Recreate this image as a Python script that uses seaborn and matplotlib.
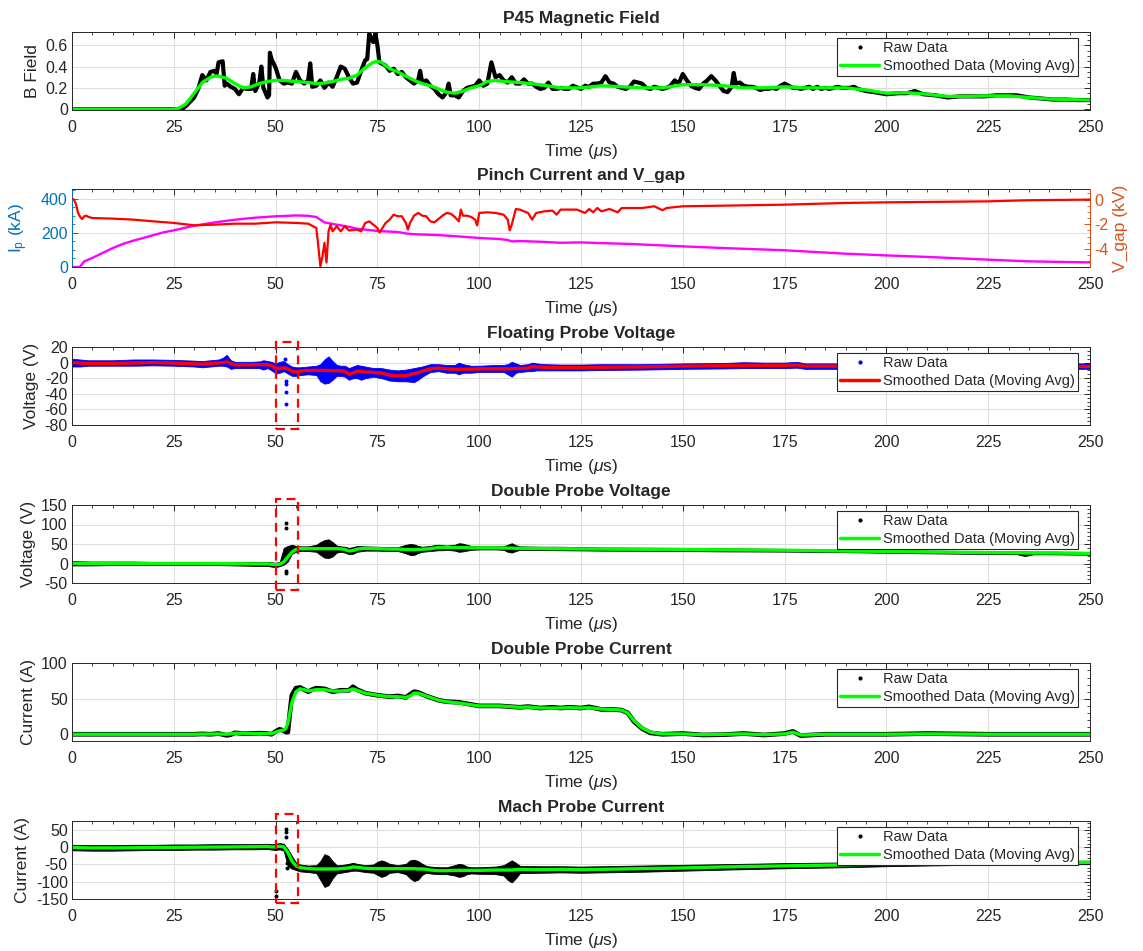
import matplotlib
matplotlib.use("Agg")
import matplotlib.pyplot as plt
import seaborn as sns
from matplotlib.ticker import MultipleLocator
from matplotlib.lines import Line2D
from matplotlib.patches import Rectangle

# ---------------------------------------------------------------- data
# P45 magnetic field: raw trace (time us, field) and moving average
bfield_raw_pts = [
    (0, 0.0), (10, 0.0), (20, 0.0), (25, 0.0), (26, -0.01), (27, 0.0), (28, 0.03), (30, 0.11), (31, 0.19), (32, 0.32),
    (33, 0.27), (34, 0.35), (35, 0.36), (35.5, 0.33), (36, 0.44), (37, 0.45), (37.5, 0.22), (38, 0.24), (39, 0.21), (40, 0.19),
    (41, 0.14), (42, 0.2), (43, 0.19), (44, 0.19), (44.5, 0.33), (45, 0.17), (46, 0.25), (46.5, 0.40), (47, 0.2), (48, 0.11),
    (48.4, 0.13), (48.6, 0.53), (49, 0.47), (50, 0.39), (51, 0.27), (52, 0.24), (53, 0.25), (54, 0.24), (55, 0.35), (56, 0.27),
    (57, 0.24), (58, 0.27), (58.5, 0.43), (59, 0.21), (60, 0.22), (61, 0.27), (62, 0.2), (63, 0.25), (64, 0.21), (65, 0.30),
    (66, 0.40), (67, 0.38), (68, 0.30), (69, 0.24), (70, 0.25), (71, 0.36), (72, 0.46), (72.5, 0.47), (73, 0.71), (73.5, 0.66),
    (74, 0.63), (74.5, 0.71), (75, 0.60), (75.5, 0.44), (76, 0.43), (77, 0.41), (78, 0.36), (79, 0.38), (80, 0.33), (81, 0.35),
    (82, 0.30), (83, 0.27), (84, 0.24), (85, 0.27), (85.5, 0.36), (86, 0.25), (87, 0.27), (88, 0.22), (89, 0.19), (90, 0.14),
    (91, 0.11), (92, 0.16), (92.5, 0.24), (93, 0.13), (94, 0.13), (95, 0.11), (96, 0.17), (97, 0.2), (98, 0.21), (99, 0.22),
    (100, 0.27), (101, 0.22), (102, 0.24), (103, 0.44), (104, 0.30), (105, 0.32), (106, 0.27), (107, 0.25), (108, 0.30), (109, 0.24),
    (110, 0.24), (111, 0.28), (112, 0.24), (113, 0.24), (114, 0.21), (115, 0.19), (116, 0.2), (117, 0.25), (118, 0.19), (119, 0.19),
    (120, 0.2), (121, 0.19), (122, 0.19), (123, 0.22), (125, 0.19), (126, 0.22), (127, 0.21), (128, 0.24), (129, 0.24), (130, 0.25),
    (131, 0.31), (132, 0.25), (133, 0.24), (134, 0.21), (135, 0.2), (136, 0.19), (137, 0.21), (138, 0.26), (139, 0.25), (140, 0.24),
    (141, 0.2), (142, 0.19), (143, 0.21), (144, 0.2), (145, 0.19), (146, 0.2), (147, 0.22), (148, 0.27), (149, 0.24), (150, 0.33),
    (151, 0.27), (152, 0.22), (153, 0.2), (154, 0.19), (155, 0.24), (156, 0.27), (157, 0.31), (158, 0.27), (159, 0.22), (160, 0.17),
    (161, 0.16), (162, 0.21), (162.5, 0.34), (163, 0.24), (164, 0.25), (165, 0.22), (166, 0.21), (167, 0.21), (168, 0.2), (169, 0.18),
    (170, 0.19), (171, 0.19), (172, 0.2), (173, 0.19), (174, 0.22), (175, 0.24), (176, 0.22), (177, 0.2), (178, 0.2), (179, 0.19),
    (180, 0.2), (181, 0.21), (182, 0.19), (183, 0.21), (184, 0.19), (185, 0.2), (186, 0.19), (187, 0.2), (188, 0.21), (189, 0.2),
    (190, 0.2), (191, 0.2), (192, 0.21), (193, 0.19), (195, 0.17), (197, 0.16), (200, 0.14), (203, 0.15), (205, 0.15), (207, 0.17),
    (209, 0.14), (212, 0.13), (215, 0.11), (218, 0.12), (221, 0.12), (224, 0.12), (227, 0.13), (230, 0.13), (232, 0.13), (235, 0.11),
    (238, 0.10), (241, 0.09), (244, 0.09), (247, 0.085), (250, 0.085),
]
bfield_smooth_pts = [
    (0, 0.0), (25, 0.0), (26, 0.005), (28, 0.05), (30, 0.15), (32, 0.25), (34, 0.3), (35, 0.31), (36, 0.31), (38, 0.29),
    (40, 0.24), (42, 0.2), (44, 0.21), (46, 0.24), (48, 0.26), (50, 0.27), (52, 0.27), (55, 0.26), (58, 0.25), (60, 0.24),
    (62, 0.245), (64, 0.26), (66, 0.28), (68, 0.29), (70, 0.32), (72, 0.39), (74, 0.44), (75, 0.45), (76, 0.44), (78, 0.38),
    (80, 0.35), (82, 0.31), (84, 0.27), (86, 0.24), (88, 0.22), (90, 0.19), (92, 0.16), (94, 0.15), (96, 0.17), (98, 0.2),
    (100, 0.22), (102, 0.26), (104, 0.27), (106, 0.26), (110, 0.25), (115, 0.23), (120, 0.2), (125, 0.2), (130, 0.22), (135, 0.21),
    (140, 0.2), (145, 0.2), (150, 0.23), (155, 0.23), (160, 0.22), (165, 0.2), (170, 0.2), (175, 0.21), (180, 0.2), (185, 0.2),
    (190, 0.2), (195, 0.18), (200, 0.15), (205, 0.155), (210, 0.14), (215, 0.12), (220, 0.12), (225, 0.125), (230, 0.125), (235, 0.11),
    (240, 0.095), (245, 0.09), (250, 0.085),
]

# pinch current (kA) and gap voltage (kV)
ip_pts = [
    (0, 0), (1.9, 0), (3, 33), (4, 43), (5, 53), (7.5, 82), (10, 111), (12.5, 135), (15, 154), (17.5, 170),
    (20, 187), (22.5, 203), (25, 215), (30, 242), (35, 261), (40, 277), (45, 289), (50, 297), (55, 302), (58, 300),
    (60, 293), (61, 277), (62, 261), (63, 257), (65, 248), (67.5, 238), (70, 224), (72.5, 218), (75, 211), (80, 205),
    (82.5, 195), (85, 191), (90, 187), (95, 179), (100, 170), (105, 164), (107, 158), (108, 150), (110, 152), (115, 148),
    (120, 142), (125, 144), (130, 140), (137, 135), (150, 121), (160, 111), (175, 98), (190, 78), (200, 68), (210, 59),
    (225, 43), (235, 33), (250, 27),
]
vgap_pts = [
    (0, 0.08), (0.5, 0.0), (1, -0.4), (1.5, -1.08), (2, -1.4), (2.5, -1.57), (3, -1.35), (3.5, -1.3), (4, -1.4), (5, -1.49),
    (10, -1.54), (15, -1.62), (20, -1.76), (25, -1.89), (30, -2.08), (35, -2.03), (40, -1.95), (45, -1.95), (50, -1.84), (55, -1.89),
    (58, -1.95), (60, -2.3), (60.5, -3.8), (61, -5.4), (61.5, -4.6), (62, -3.5), (62.5, -5.1), (63, -2.57), (63.5, -2.03), (64, -2.57),
    (65, -2.16), (66, -2.57), (67, -2.16), (68, -2.5), (70, -2.43), (71, -2.57), (72, -1.9), (73, -1.76), (74, -2.03), (75, -2.3),
    (75.5, -2.65), (76, -2.43), (77, -1.9), (78, -1.62), (79, -1.22), (80, -1.35), (81, -1.35), (82, -1.9), (82.5, -2.43), (83, -1.9),
    (84, -1.3), (85, -1.08), (86, -1.3), (87, -1.35), (88, -1.76), (89, -1.84), (90, -1.57), (91, -1.3), (92, -1.08), (93, -1.14),
    (94, -1.4), (95, -1.76), (95.5, -0.81), (96, -1.3), (97, -1.3), (98, -1.4), (99, -1.62), (99.5, -2.1), (100, -1.08), (102, -1.03),
    (104, -1.08), (106, -1.22), (107, -1.62), (107.5, -2.49), (108, -2.03), (109, -0.76), (110, -0.81), (111, -0.95), (112, -1.08), (113, -1.62),
    (114, -1.08), (116, -0.95), (118, -0.89), (119, -1.22), (120, -0.81), (122, -0.81), (124, -0.81), (126, -1.08), (127, -0.76), (128, -1.03),
    (129, -0.68), (130, -0.95), (132, -0.76), (134, -1.03), (135, -0.68), (140, -0.68), (143, -0.54), (145, -0.86), (146, -0.68), (150, -0.54),
    (160, -0.49), (175, -0.41), (190, -0.27), (200, -0.22), (210, -0.19), (225, -0.14), (235, -0.05), (250, 0.0),
]

# floating probe voltage: (time, moving average, raw lower edge, raw upper edge)
float_pts = [
    (0, 0, -5, 5), (2, -0.5, -5, 4), (4, -1, -4, 3), (6, -1, -4, 3), (8, -1, -4, 3), (10, -1, -4, 3), (15, -0.5, -4, 4),
    (20, 0, -3.5, 4), (25, -0.5, -4, 3.5), (30, -1.5, -5, 2.5), (32, -2, -6, 2), (34, -1, -5, 3), (36, -0.5, -4, 4), (37, 0, -4, 6),
    (38, 1, -5, 10), (39, -1, -8, 3), (40, -3, -7, 1), (44, -3, -7, 1), (46, -2.5, -7, 1.5), (47, -2.5, -9, 3), (48, -2.5, -7, 2),
    (49, -4, -10, 1), (50, -7, -14, -1), (51, -7.5, -13, 1), (52, -6.5, -11, 2), (53, -8, -14, -2), (54, -11, -17, -5), (55, -12, -17, -6),
    (56, -11, -16, -6), (58, -10, -15, -5), (60, -10, -16, -4), (61, -10, -24, -2), (62, -10, -27, 4), (63, -10, -26, 8), (64, -10.5, -22, 2),
    (65, -10.5, -17, -3), (66, -10.5, -17, -4), (67, -11, -18, -4), (68, -15, -22, -7), (69, -13.5, -20, -5), (70, -11, -20, -3), (71, -11, -22, -4),
    (72, -12, -20, -5), (74, -12.5, -18, -7), (76, -13.5, -20, -7), (78, -16, -23, -9), (80, -17, -24, -10), (82, -16.5, -24, -9), (84, -14, -25, -7),
    (85, -13, -22, -6), (86, -11, -18, -5), (88, -8, -12, -2), (90, -7, -11, -2), (92, -8, -13, -3), (94, -8.5, -13, -3), (95, -8.5, -15, 0),
    (96, -8.5, -13, -2), (98, -8.5, -13, -4), (100, -8, -12, -4), (104, -8, -12, -3), (106, -8, -12, -3), (107, -8, -15, -2), (108, -8, -18, 1),
    (109, -7.5, -13, -1), (110, -7.5, -12, -3), (112, -7, -11, -2), (113, -5, -11, 0), (114, -5.5, -10, -1), (116, -6, -10, -2), (120, -6.5, -10, -2.5),
    (125, -6.5, -10, -2.5), (130, -6, -9.5, -2), (140, -5.5, -9, -2), (150, -4.5, -8, -1), (160, -4, -7.5, -0.5), (165, -3.5, -7, 0.5), (170, -3.5, -7, 0),
    (175, -3.5, -7, 0), (178, -3, -6.5, 1), (180, -4.5, -8, -1), (190, -4.5, -8, -1), (200, -4.5, -8, -1), (210, -4.5, -8, -1), (220, -4.5, -8, -1),
    (230, -4.5, -8, -1), (240, -4.5, -8, -1), (250, -5, -8, -1),
]
float_outliers = [(52.4, 5), (52.5, -24), (52.6, -28), (52.5, -38), (52.5, -53)]

# double probe voltage: (time, moving average, raw lower edge, raw upper edge)
dpv_pts = [
    (0, 0, -5, 6), (5, 0, -5, 5), (10, 0, -4, 5), (15, 0, -4, 5), (20, 0, -4, 4), (25, 0, -4, 4), (30, 0, -4, 4), (35, 0, -4, 4),
    (40, -0.5, -5, 4), (45, -1, -6, 4), (48, -1, -6, 4), (49, -2, -8, 3), (50, -3, -9, 2), (51, -2, -7, 4), (52, 4, -3, 40), (53, 17, 5, 45),
    (54, 29, 25, 48), (55, 36, 30, 45), (56, 38, 32, 44), (58, 38, 32, 44), (60, 38, 30, 48), (61, 38, 22, 55), (62, 38, 15, 60), (63, 38, 14, 62),
    (64, 38, 18, 55), (65, 38, 28, 46), (66, 37.5, 30, 44), (67, 36, 28, 43), (68, 32, 24, 40), (69, 33, 25, 42), (70, 37, 30, 45), (72, 39, 33, 44),
    (75, 38, 33, 43), (78, 37, 32, 42), (80, 37, 32, 42), (82, 36, 26, 48), (83, 35.5, 22, 50), (84, 35.5, 22, 49), (85, 36, 27, 45), (86, 36.5, 30, 43),
    (88, 38, 32, 45), (89, 39.5, 33, 47), (90, 41, 34, 48), (91, 41, 34, 47), (92, 41, 35, 46), (94, 41, 33, 48), (95, 41, 30, 52), (96, 41, 31, 51),
    (97, 40.5, 33, 48), (98, 40, 35, 45), (100, 40, 36, 44), (104, 40, 36, 44), (106, 39.5, 35, 44), (107, 39.5, 30, 48), (108, 39.5, 28, 52), (109, 39, 32, 47),
    (110, 39, 35, 44), (115, 38.5, 34.5, 43), (120, 38, 34, 43), (125, 37.5, 33.5, 42), (130, 37, 33, 41), (140, 36.5, 32.5, 40.5), (150, 36, 32, 40), (160, 35, 31, 39),
    (175, 34, 30.5, 37.5), (190, 32, 29, 35.5), (200, 31, 27.5, 34.5), (210, 29.5, 26, 33), (225, 28, 24.5, 31.5), (232, 27.5, 24, 31), (234, 27, 19, 31), (236, 27, 23.5, 30.5),
    (240, 27, 23.5, 30.5), (250, 26, 22.5, 29.5),
]
dpv_outliers = [(52.5, 105), (52.5, 92), (52.6, -18), (52.6, -25)]

# double probe current: (time, raw, moving average)
dpc_pts = [
    (0, 0, 0), (10, 0, 0), (20, 0, 0), (30, 0, 0), (32, 0.5, 0.3), (34, 0, 0.3), (36, 1, 0.5), (38, -1.5, 0), (39, -0.5, 0.5), (40, 2, 1.5),
    (42, 1, 1.5), (44, 1, 1), (46, 1.5, 1), (48, 1, 1), (49, 0, 1), (50, 4, 3), (51, 7, 5), (52, 5, 6), (52.5, 3, 8), (53, 3, 15),
    (53.5, 30, 30), (54, 55, 45), (55, 65, 60), (56, 66, 64), (57, 63, 63), (58, 60, 61), (59, 63, 62), (60, 65, 63), (62, 64, 63), (64, 60, 61),
    (66, 62, 61), (68, 62, 62), (69, 67, 64), (70, 63, 62), (72, 58, 58), (75, 55, 55), (78, 53, 53), (80, 54, 53), (82, 52, 52), (83, 56, 54),
    (84, 60, 58), (85, 59, 58), (87, 54, 54), (90, 48, 48), (92, 46, 46), (95, 45, 44), (100, 40, 40), (105, 40, 40), (110, 38, 38), (112, 39, 38.5),
    (115, 37, 37), (118, 38, 37), (120, 37, 37), (122, 38, 37.5), (125, 37, 37), (127, 38.6, 37.5), (130, 35, 35.5), (133, 35, 35), (135, 34, 34), (136.5, 30, 30),
    (138, 18, 19), (140, 8, 9), (142, 2, 3), (145, 0, 0.5), (150, 1, 0.5), (155, -1, -0.5), (160, -0.5, 0), (165, 1, 0.5), (170, -1, -0.5), (175, 1, 0.5),
    (177, 4, 3), (179, -2, -1), (180, -1.5, -1), (185, 0, 0), (200, 0, 0), (210, 1, 0.5), (225, 0, 0), (250, 0, 0),
]

# Mach probe current: (time, moving average, raw lower edge, raw upper edge)
mach_pts = [
    (0, -1, -9, 7), (5, -2, -10, 6), (10, -2, -10, 6), (15, -1.5, -9, 7), (20, -1, -8, 7), (25, -0.5, -8, 8), (30, 0, -7, 8), (35, 0.5, -7, 9),
    (40, 1, -6, 9), (45, 1.5, -6, 9), (48, 2, -5, 10), (49, 1, -7, 9), (50, 1, -8, 10), (51, 3, -6, 12), (52, 1, -10, 10), (53, -15, -55, -5),
    (54, -40, -62, -25), (55, -54, -66, -44), (56, -59, -70, -50), (58, -62, -72, -53), (60, -63, -75, -52), (61, -63, -95, -40), (62, -63, -115, -20), (63, -63, -110, -25),
    (64, -63, -90, -40), (65, -63, -76, -52), (66, -62, -74, -52), (68, -60, -70, -48), (69, -57, -68, -45), (70, -58, -68, -48), (72, -61, -72, -52), (74, -62, -74, -50),
    (75, -62, -80, -42), (76, -62, -86, -38), (77, -62, -82, -42), (78, -62, -74, -48), (80, -62, -72, -52), (82, -62, -78, -48), (83, -62, -90, -38), (84, -62, -98, -36),
    (85, -63, -94, -40), (86, -63, -80, -48), (87, -64, -74, -54), (88, -66, -76, -56), (90, -68, -78, -58), (92, -68, -78, -58), (94, -67, -82, -52), (95, -67, -86, -48),
    (96, -67, -84, -50), (97, -67, -78, -56), (98, -67, -76, -58), (100, -67, -77, -58), (104, -66, -78, -56), (106, -66, -82, -52), (107, -66, -95, -45), (108, -66, -102, -38),
    (109, -65, -90, -45), (110, -64, -75, -54), (115, -65, -74, -55), (120, -64, -73, -55), (125, -65, -74, -56), (130, -64, -73, -55), (140, -62, -71, -53), (150, -60, -68, -51),
    (160, -57, -65, -49), (175, -54, -61, -46), (190, -51, -58, -44), (200, -49, -55, -43), (210, -47, -53, -41), (225, -45, -50, -40), (250, -44, -49, -39),
]
mach_outliers = [(50.1, -140), (50.1, -128), (52.6, 53), (52.6, 45), (52.6, 30), (52.7, -20), (52.7, -45), (52.7, -60)]

# highlighted breakdown window (time range) and box heights per panel
window_t = (50.2, 55.6)
window_float = (-85, 26)
window_dpv = (-69, 165)
window_mach = (-162, 95)

# ---------------------------------------------------------------- unpack
bfield_t, bfield_raw = zip(*bfield_raw_pts)
bfield_st, bfield_smooth = zip(*bfield_smooth_pts)
ip_t, ip_kA = zip(*ip_pts)
vgap_t, vgap_kV = zip(*vgap_pts)
float_t, float_smooth, float_lo, float_hi = zip(*float_pts)
dpv_t, dpv_smooth, dpv_lo, dpv_hi = zip(*dpv_pts)
dpc_t, dpc_raw, dpc_smooth = zip(*dpc_pts)
mach_t, mach_smooth, mach_lo, mach_hi = zip(*mach_pts)

# ---------------------------------------------------------------- style
sns.set_theme(style="white")
plt.rcParams["font.family"] = ["Liberation Sans", "DejaVu Sans"]
plt.rcParams["axes.unicode_minus"] = False
plt.rcParams["mathtext.fontset"] = "custom"
plt.rcParams["mathtext.rm"] = "Liberation Sans"
plt.rcParams["mathtext.it"] = "Liberation Sans:italic"

AX_COL = "#262626"
GRID_COL = "#DCDCDC"
GREEN = "#00FF00"
TICK_FS = 11.5
LABEL_FS = 12.5
TITLE_FS = 12.5
W, H = 1143, 951
TOPS = [32, 189, 347, 505, 663, 821]
AX_H = 78

fig = plt.figure(figsize=(W / 100, H / 100), dpi=100)


def make_axes(top):
    return fig.add_axes([72 / W, 1 - (top + AX_H) / H, 1018 / W, AX_H / H])


def style(ax, title, ylabel, ylim, yticks, yminor, ylabelpad=4):
    ax.set_xlim(0, 250)
    ax.set_ylim(*ylim)
    ax.xaxis.set_major_locator(MultipleLocator(25))
    ax.xaxis.set_minor_locator(MultipleLocator(5))
    ax.set_yticks(yticks)
    ax.yaxis.set_minor_locator(MultipleLocator(yminor))
    ax.tick_params(which="both", direction="in", top=True, right=True,
                   colors=AX_COL, labelsize=TICK_FS)
    ax.tick_params(which="major", length=4, width=0.7)
    ax.tick_params(which="minor", length=2, width=0.6)
    ax.tick_params(axis="x", pad=7)
    ax.tick_params(axis="y", pad=3)
    ax.grid(True, which="major", color=GRID_COL, lw=0.7)
    ax.set_axisbelow(True)
    for sp in ax.spines.values():
        sp.set_color(AX_COL)
        sp.set_linewidth(0.7)
    ax.set_title(title, fontsize=TITLE_FS, fontweight="bold", pad=6.5)
    ax.set_xlabel(r"Time ($\mu$s)", fontsize=LABEL_FS, color=AX_COL, labelpad=5)
    ax.set_ylabel(ylabel, fontsize=LABEL_FS, color=AX_COL, labelpad=ylabelpad)


def add_legend(ax, raw_color, smooth_color):
    handles = [
        Line2D([], [], color=raw_color, marker=".", ls="none", markersize=4),
        Line2D([], [], color=smooth_color, lw=2.5),
    ]
    leg = ax.legend(handles, ["Raw Data", "Smoothed Data (Moving Avg)"],
                    loc="upper right", bbox_to_anchor=(0.988, 0.925),
                    borderaxespad=0, fontsize=10.5, frameon=True, fancybox=False,
                    framealpha=1, edgecolor="#262626", handlelength=2.7,
                    handletextpad=0.25, borderpad=0.2, labelspacing=0.3)
    leg.get_frame().set_linewidth(0.8)
    leg.set_zorder(10)


def add_window(ax, yrange):
    ax.add_patch(Rectangle((window_t[0], yrange[0]), window_t[1] - window_t[0],
                           yrange[1] - yrange[0], transform=ax.transData,
                           fill=False, ec="red", ls=(0, (4, 2.5)), lw=1.6,
                           clip_on=False, zorder=8))


# ---------------------------------------------------------------- panel 1
ax1 = make_axes(TOPS[0])
sns.lineplot(x=list(bfield_t), y=list(bfield_raw), ax=ax1, color="black", lw=3.0, sort=False)
sns.lineplot(x=list(bfield_st), y=list(bfield_smooth), ax=ax1, color=GREEN, lw=2.4, sort=False)
style(ax1, "P45 Magnetic Field", "B Field", (-0.008, 0.725), [0, 0.2, 0.4, 0.6], 0.05)
ax1.set_yticklabels(["0", "0.2", "0.4", "0.6"])
add_legend(ax1, "black", GREEN)

# ---------------------------------------------------------------- panel 2
IP_COL = "#0072BD"
VG_COL = "#D95319"
ax2 = make_axes(TOPS[1])
sns.lineplot(x=list(ip_t), y=list(ip_kA), ax=ax2, color="#FF00FF", lw=1.7, sort=False)
style(ax2, "Pinch Current and V_gap", r"$\mathregular{I_p}$ (kA)", (0, 457), [0, 200, 400], 50, ylabelpad=8)
ax2.tick_params(axis="y", which="both", colors=IP_COL, right=False)
ax2.yaxis.label.set_color(IP_COL)
ax2.spines["left"].set_color(IP_COL)
ax2.yaxis.grid(True, color="#CFE2F1", lw=0.7)
ax2r = ax2.twinx()
sns.lineplot(x=list(vgap_t), y=list(vgap_kV), ax=ax2r, color="#FF0000", lw=1.6, sort=False)
ax2r.set_ylim(-5.46, 0.86)
ax2r.set_yticks([-4, -2, 0])
ax2r.yaxis.set_minor_locator(MultipleLocator(0.5))
ax2r.tick_params(which="both", direction="in", colors=VG_COL, labelsize=TICK_FS, pad=3)
ax2r.tick_params(which="major", length=4, width=0.7)
ax2r.tick_params(which="minor", length=2, width=0.6)
ax2r.spines["right"].set_color(VG_COL)
ax2r.spines["right"].set_linewidth(0.7)
ax2r.spines["left"].set_visible(False)
ax2r.spines["top"].set_visible(False)
ax2r.spines["bottom"].set_visible(False)
ax2r.set_ylabel("V_gap (kV)", fontsize=LABEL_FS, color=VG_COL, labelpad=3)
ax2r.grid(False)

# ---------------------------------------------------------------- panel 3
ax3 = make_axes(TOPS[2])
ax3.fill_between(float_t, float_lo, float_hi, color="#0000FF", lw=0.6, ec="#0000FF")
sns.scatterplot(x=[p[0] for p in float_outliers], y=[p[1] for p in float_outliers],
                ax=ax3, color="#0000FF", s=8, linewidth=0)
sns.lineplot(x=list(float_t), y=list(float_smooth), ax=ax3, color="#FF0000", lw=2.4, sort=False)
style(ax3, "Floating Probe Voltage", "Voltage (V)", (-80, 20), [-80, -60, -40, -20, 0, 20], 5)
add_legend(ax3, "#0000FF", "#FF0000")
add_window(ax3, window_float)

# ---------------------------------------------------------------- panel 4
ax4 = make_axes(TOPS[3])
ax4.fill_between(dpv_t, dpv_lo, dpv_hi, color="black", lw=0.6, ec="black")
sns.scatterplot(x=[p[0] for p in dpv_outliers], y=[p[1] for p in dpv_outliers],
                ax=ax4, color="black", s=8, linewidth=0)
sns.lineplot(x=list(dpv_t), y=list(dpv_smooth), ax=ax4, color=GREEN, lw=2.4, sort=False)
style(ax4, "Double Probe Voltage", "Voltage (V)", (-50, 150), [-50, 0, 50, 100, 150], 10)
add_legend(ax4, "black", GREEN)
add_window(ax4, window_dpv)

# ---------------------------------------------------------------- panel 5
ax5 = make_axes(TOPS[4])
sns.lineplot(x=list(dpc_t), y=list(dpc_raw), ax=ax5, color="black", lw=3.4, sort=False)
sns.lineplot(x=list(dpc_t), y=list(dpc_smooth), ax=ax5, color=GREEN, lw=2.4, sort=False)
style(ax5, "Double Probe Current", "Current (A)", (-9.5, 100.5), [0, 50, 100], 10)
add_legend(ax5, "black", GREEN)

# ---------------------------------------------------------------- panel 6
ax6 = make_axes(TOPS[5])
ax6.fill_between(mach_t, mach_lo, mach_hi, color="black", lw=0.6, ec="black")
sns.scatterplot(x=[p[0] for p in mach_outliers], y=[p[1] for p in mach_outliers],
                ax=ax6, color="black", s=8, linewidth=0)
sns.lineplot(x=list(mach_t), y=list(mach_smooth), ax=ax6, color=GREEN, lw=2.4, sort=False)
style(ax6, "Mach Probe Current", "Current (A)", (-150, 76), [-150, -100, -50, 0, 50], 10)
add_legend(ax6, "black", GREEN)
add_window(ax6, window_mach)

fig.savefig("out.png", dpi=100, facecolor="white")
